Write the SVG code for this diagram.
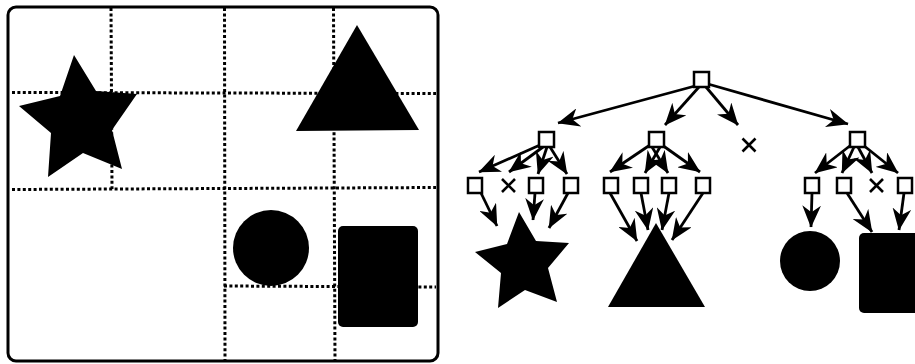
<svg xmlns="http://www.w3.org/2000/svg" width="915" height="364" viewBox="0 0 915 364">
<style>
.grid{stroke:#000;stroke-width:3;stroke-dasharray:3 2.4;fill:none}
.node{fill:#fff;stroke:#000;stroke-width:2.5}
.edge{stroke:#000;stroke-width:2.8;fill:none;marker-end:url(#ah)}
.x{stroke:#000;stroke-width:2.6;fill:none}
.shape{fill:#000}
</style>
<defs>
<marker id="ah" viewBox="0 0 20 17" markerWidth="22" markerHeight="18.7" refX="19.5" refY="8.5" orient="auto" markerUnits="userSpaceOnUse"><path d="M20,8.5 L0,0 L6,8.5 L0,17 z" fill="#000"/></marker>
</defs>
<rect width="915" height="364" fill="#fff"/>
<g id="scene">
<g id="grid">
<line class="grid" x1="12" y1="92.5" x2="436" y2="93.5"/>
<line class="grid" x1="12" y1="189.5" x2="436" y2="187.5"/>
<line class="grid" x1="224" y1="286" x2="436" y2="287"/>
<line class="grid" x1="111" y1="8" x2="112" y2="189"/>
<line class="grid" x1="224.5" y1="8" x2="225" y2="362"/>
<line class="grid" x1="333.5" y1="8" x2="335" y2="362"/>
</g>
<polygon class="shape" points="74,55 96,91 137,94 112,130 122,169 83,153 48,177 51,133 19,106 60,96"/>
<polygon class="shape" points="357,25 419,130 296,131"/>
<circle class="shape" cx="271" cy="248" r="38"/>
<rect class="shape" x="338" y="226" width="80" height="101" rx="5"/>
<rect x="8" y="7" width="430" height="354" rx="8" fill="none" stroke="#000" stroke-width="3"/>
</g>
<g id="connectors">
<line class="edge" x1="695" y1="86" x2="558" y2="123"/>
<line class="edge" x1="699" y1="87" x2="665" y2="125"/>
<line class="edge" x1="706" y1="87" x2="738" y2="125"/>
<line class="edge" x1="708" y1="84" x2="848" y2="124"/>
<line class="edge" x1="540" y1="145" x2="479" y2="172"/>
<line class="edge" x1="543" y1="147" x2="509" y2="172"/>
<line class="edge" x1="547" y1="147" x2="538" y2="174"/>
<line class="edge" x1="550" y1="147" x2="567" y2="174"/>
<line class="edge" x1="650" y1="145" x2="610" y2="172"/>
<line class="edge" x1="660" y1="147" x2="645" y2="173"/>
<line class="edge" x1="652" y1="147" x2="668" y2="173"/>
<line class="edge" x1="662" y1="145" x2="700" y2="172"/>
<line class="edge" x1="851" y1="145" x2="815" y2="173"/>
<line class="edge" x1="854" y1="147" x2="842" y2="173"/>
<line class="edge" x1="858" y1="147" x2="872" y2="173"/>
<line class="edge" x1="863" y1="145" x2="898" y2="173"/>
<line class="edge" x1="481" y1="193" x2="497" y2="226"/>
<line class="edge" x1="535" y1="193" x2="533" y2="220"/>
<line class="edge" x1="568" y1="193" x2="549" y2="228"/>
<line class="edge" x1="610" y1="193" x2="637" y2="241"/>
<line class="edge" x1="641" y1="193" x2="648" y2="230"/>
<line class="edge" x1="669" y1="193" x2="662" y2="230"/>
<line class="edge" x1="703" y1="193" x2="672" y2="240"/>
<line class="edge" x1="812" y1="193" x2="811" y2="227"/>
<line class="edge" x1="847" y1="193" x2="872" y2="232"/>
<line class="edge" x1="904" y1="193" x2="899" y2="230"/>
</g>
<g id="root"><rect class="node" x="694" y="72" width="15" height="15"/></g>
<g id="n1"><rect class="node" x="539" y="132" width="15" height="15"/></g>
<g id="n2"><rect class="node" x="649" y="132" width="15" height="15"/></g>
<g id="n3"><path class="x" d="M742.5,138.5 L755.5,151.5 M755.5,138.5 L742.5,151.5"/></g>
<g id="n4"><rect class="node" x="850" y="132" width="15" height="15"/></g>
<g id="n1a"><rect class="node" x="468" y="178" width="14" height="15"/></g>
<g id="n1b"><path class="x" d="M502,179 L515,192 M515,179 L502,192"/></g>
<g id="n1c"><rect class="node" x="529" y="178" width="14" height="15"/></g>
<g id="n1d"><rect class="node" x="564" y="178" width="14" height="15"/></g>
<g id="n2a"><rect class="node" x="604" y="178" width="14" height="15"/></g>
<g id="n2b"><rect class="node" x="634" y="178" width="14" height="15"/></g>
<g id="n2c"><rect class="node" x="662" y="178" width="14" height="15"/></g>
<g id="n2d"><rect class="node" x="696" y="178" width="14" height="15"/></g>
<g id="n4a"><rect class="node" x="805" y="178" width="14" height="15"/></g>
<g id="n4b"><rect class="node" x="837" y="178" width="14" height="15"/></g>
<g id="n4c"><path class="x" d="M870,179 L883,192 M883,179 L870,192"/></g>
<g id="n4d"><rect class="node" x="898" y="178" width="14" height="15"/></g>
<g id="star"><polygon class="shape" points="519,212 536,241 569,243 548,268 557,302 525,290 498,308 501,273 475,252 507,244"/></g>
<g id="triangle"><polygon class="shape" points="656,223 705,307 608,307"/></g>
<g id="circle"><circle class="shape" cx="810" cy="261" r="30"/></g>
<g id="square"><rect class="shape" x="859" y="233" width="80" height="80" rx="5"/></g>
</svg>
